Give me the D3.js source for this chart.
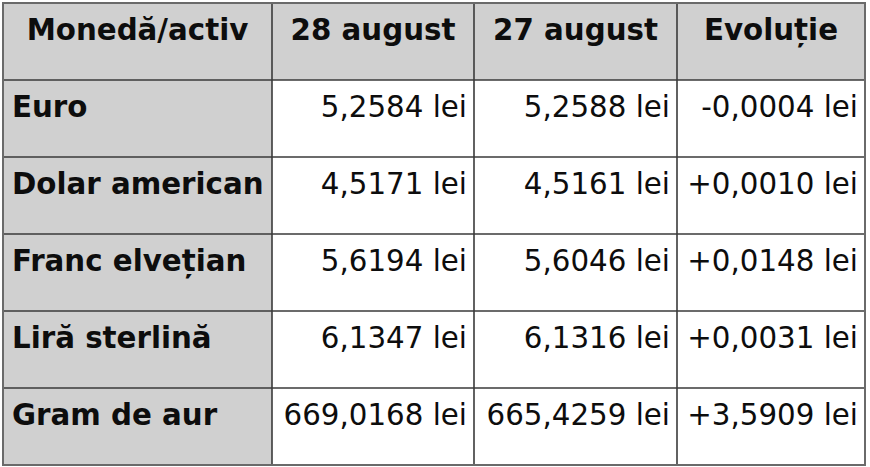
<!DOCTYPE html>
<html lang="ro">
<head>
<meta charset="UTF-8">
<title>Curs valutar</title>
<style>
  html, body { margin: 0; padding: 0; background: #fff; }
  svg text { font-family: "DejaVu Sans", Verdana, sans-serif; font-size: 29.3px; fill: #0d0d0d; }
  .head { font-weight: bold; }
  .label { font-weight: bold; }
</style>
</head>
<body>
<svg id="table" width="870" height="467"></svg>
<script src="https://cdnjs.cloudflare.com/ajax/libs/d3/7.8.5/d3.min.js"></script>
<script>
// date
const headers = ['Monedă/activ', '28 august', '27 august', 'Evoluție'];
const assets = ['Euro', 'Dolar american', 'Franc elvețian', 'Liră sterlină', 'Gram de aur'];
const aug28 = ['5,2584', '4,5171', '5,6194', '6,1347', '669,0168'];
const aug27 = ['5,2588', '4,5161', '5,6046', '6,1316', '665,4259'];
const evolutie = ['-0,0004', '+0,0010', '+0,0148', '+0,0031', '+3,5909'];

// layout
const marginLeft = 3, marginTop = 3;
const colWidths = [269, 202, 203, 188];
const rowH = 77;
const padL = 9, padR = 7, baseY = 37;

const svg = d3.select('#table');

const colStart = [marginLeft].concat(Array.from(d3.cumsum(colWidths), d => d + marginLeft));
const x = d3.scaleOrdinal().domain(d3.range(headers.length)).range(colStart);
const w = i => colWidths[i];

const rows = ['head'].concat(assets);
const y = d3.scaleBand().domain(rows).range([marginTop, marginTop + rowH * rows.length]);

const tableW = d3.sum(colWidths);
const tableH = rowH * rows.length;

// fundal gri: antet + prima coloana
svg.append('rect')
  .attr('x', marginLeft).attr('y', marginTop)
  .attr('width', tableW).attr('height', y.bandwidth())
  .attr('fill', '#d0d0d0');
svg.append('rect')
  .attr('x', marginLeft).attr('y', marginTop)
  .attr('width', w(0)).attr('height', tableH)
  .attr('fill', '#d0d0d0');

// linii interioare
svg.selectAll('line.h')
  .data(rows.slice(1))
  .enter().append('line')
  .attr('class', 'h')
  .attr('x1', marginLeft).attr('x2', marginLeft + tableW)
  .attr('y1', d => y(d)).attr('y2', d => y(d))
  .attr('stroke', '#3a3a3a').attr('stroke-width', 1.6);

svg.selectAll('line.v')
  .data(d3.range(1, headers.length))
  .enter().append('line')
  .attr('class', 'v')
  .attr('y1', marginTop).attr('y2', marginTop + tableH)
  .attr('x1', d => x(d)).attr('x2', d => x(d))
  .attr('stroke', '#3a3a3a').attr('stroke-width', 1.6);

// chenar exterior
svg.append('rect')
  .attr('x', marginLeft).attr('y', marginTop)
  .attr('width', tableW).attr('height', tableH)
  .attr('fill', 'none')
  .attr('stroke', '#6a6a6a').attr('stroke-width', 2);

// antet
svg.selectAll('text.head')
  .data(headers)
  .enter().append('text')
  .attr('class', 'head')
  .attr('x', (d, i) => x(i) + w(i) / 2)
  .attr('y', y('head') + baseY)
  .attr('text-anchor', 'middle')
  .text(d => d);

// prima coloana
svg.selectAll('text.label')
  .data(assets)
  .enter().append('text')
  .attr('class', 'label')
  .attr('x', x(0) + padL)
  .attr('y', d => y(d) + baseY)
  .text(d => d);

// valori
const cols = [aug28, aug27, evolutie];
cols.forEach((vals, ci) => {
  const c = ci + 1;
  svg.selectAll('text.v' + c)
    .data(vals)
    .enter().append('text')
    .attr('class', 'v' + c)
    .attr('x', x(c) + w(c) - padR)
    .attr('y', (d, i) => y(assets[i]) + baseY)
    .attr('text-anchor', 'end')
    .text(d => d + ' lei');
});
</script>
</body>
</html>
